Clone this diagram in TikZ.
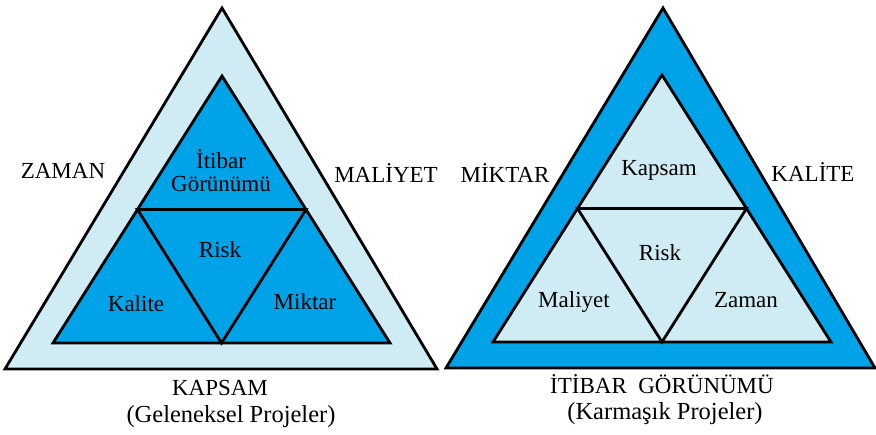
\documentclass[tikz,border=0pt]{standalone}
\usepackage{fontspec}
\setmainfont{Liberation Serif}
\usetikzlibrary{calc}
\definecolor{deepblue}{RGB}{0,162,232}
\definecolor{paleblue}{RGB}{207,236,245}
\begin{document}
\begin{tikzpicture}[x=1pt,y=-1pt,
  edge/.style={draw=black,line width=2.8pt,line join=miter},
  lbl/.style={font=\fontsize{23}{25}\selectfont,inner sep=0pt,align=center},
  caption/.style={font=\fontsize{24.5}{26}\selectfont,inner sep=0pt}]
\useasboundingbox (0,0) rectangle (876,435);

% ---- traditional projects (left) ----
\coordinate (LA) at (222,8);
\coordinate (LB) at (5,369);
\coordinate (LC) at (437,369);
\coordinate (la) at (222,76);
\coordinate (lb) at (53,343);
\coordinate (lc) at (390,343);
\path[edge,fill=paleblue] (LA) -- (LB) -- (LC) -- cycle;
\path[edge,fill=deepblue] (la) -- (lb) -- (lc) -- cycle;
\draw[edge] ($(la)!0.5!(lb)$) -- ($(la)!0.5!(lc)$) -- ($(lb)!0.5!(lc)$) -- cycle;

\node[lbl] (lt1) at (63,171) {ZAMAN};
\node[lbl] (lt2) at (386,173) {MALİYET};
\node[lbl] (lt3) at (221,171) {İtibar\\[-2pt]Görünümü};
\node[lbl] (lt4) at (220,250) {Risk};
\node[lbl] (lt5) at (136,304) {Kalite};
\node[lbl] (lt6) at (305,302) {Miktar};
\node[lbl] (lt7) at (220,388) {KAPSAM};
\node[caption] (lt8) at (231,417) {(Geleneksel Projeler)};

% ---- complex projects (right) ----
\coordinate (RA) at (663,8);
\coordinate (RB) at (446,368);
\coordinate (RC) at (875,368);
\coordinate (ra) at (662,75);
\coordinate (rb) at (493,342);
\coordinate (rc) at (831,342);
\path[edge,fill=deepblue] (RA) -- (RB) -- (RC) -- cycle;
\path[edge,fill=paleblue] (ra) -- (rb) -- (rc) -- cycle;
\draw[edge] ($(ra)!0.5!(rb)$) -- ($(ra)!0.5!(rc)$) -- ($(rb)!0.5!(rc)$) -- cycle;

\node[lbl] (rt1) at (505,173) {MİKTAR};
\node[lbl] (rt2) at (813,172) {KALİTE};
\node[lbl] (rt3) at (659,170) {Kapsam};
\node[lbl] (rt4) at (660,253) {Risk};
\node[lbl] (rt5) at (574,302) {Maliyet};
\node[lbl] (rt6) at (746,300) {Zaman};
\node[lbl] (rt7) at (662,384) {İTİBAR\ \ GÖRÜNÜMÜ};
\node[caption] (rt8) at (665,414) {(Karmaşık Projeler)};
\end{tikzpicture}
\end{document}
